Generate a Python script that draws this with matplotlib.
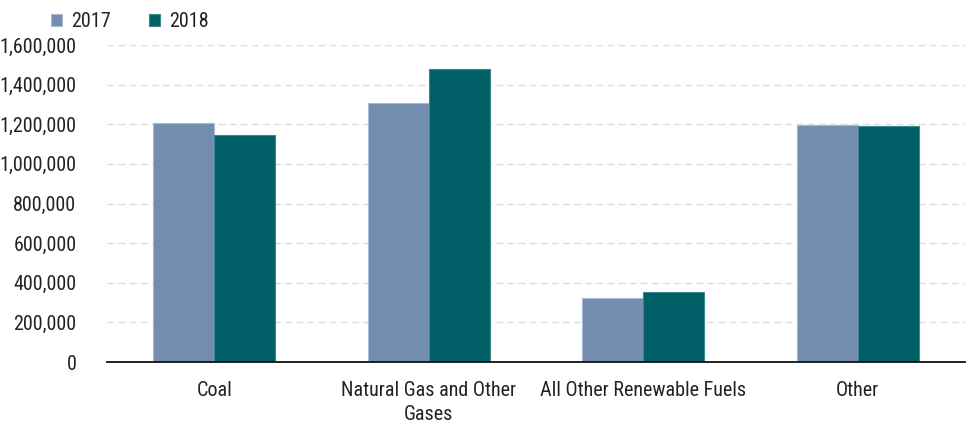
import numpy as np
import matplotlib
matplotlib.use("Agg")
import matplotlib.pyplot as plt
from matplotlib.ticker import FuncFormatter, MultipleLocator
from matplotlib.font_manager import fontManager

# data
categories = ["Coal", "Natural Gas and Other\nGases", "All Other Renewable Fuels", "Other"]
years = ["2017", "2018"]
values_2017 = [1205000, 1309000, 321000, 1196000]
values_2018 = [1144000, 1477000, 355000, 1191000]

colors = ["#728db0", "#005f66"]
edges = ["#a9bbd1", "#3a8a8e"]

names = {f.name for f in fontManager.ttflist}
family = [f for f in ["Liberation Sans Narrow", "Roboto Condensed", "Roboto", "DejaVu Sans"] if f in names]
plt.rcParams["font.family"] = family
text_color = "#222222"

fig = plt.figure(figsize=(9.66, 4.25), dpi=100)
ax = fig.add_axes([107 / 966, 1 - 362 / 425, 858 / 966, 317 / 425])

x = np.arange(len(categories))
w = 0.285
for i, (vals, yr) in enumerate(zip([values_2017, values_2018], years)):
    ax.bar(x + (i - 0.5) * w, vals, width=w, color=colors[i], edgecolor=edges[i],
           linewidth=0.8, label=yr, zorder=3)

ax.set_xlim(-0.5, len(categories) - 0.5)
ax.set_ylim(0, 1600000)
ax.yaxis.set_major_locator(MultipleLocator(200000))
ax.yaxis.set_major_formatter(FuncFormatter(lambda v, p: f"{int(v):,}"))
ax.grid(axis="y", color="#dddddd", linestyle=(0, (5, 3)), linewidth=1, zorder=0)
ax.set_xticks(x)
ax.set_xticklabels(categories, fontsize=14.5, color=text_color, linespacing=1.3)
ax.tick_params(axis="y", labelsize=14.5, colors=text_color, length=0, pad=22)
ax.tick_params(axis="x", length=0, pad=14)
for s in ["top", "right", "left"]:
    ax.spines[s].set_visible(False)
ax.spines["bottom"].set_color("#111111")
ax.spines["bottom"].set_linewidth(1.3)
ax.spines["bottom"].set_zorder(4)

leg = ax.legend(loc="lower left", bbox_to_anchor=(51 / 966, 1 - 31 / 425), bbox_transform=fig.transFigure,
                ncol=2, frameon=False, fontsize=14.5, handlelength=0.55, handleheight=0.6,
                handletextpad=0.45, columnspacing=1.9, borderaxespad=0, borderpad=0)
for t in leg.get_texts():
    t.set_color(text_color)

fig.savefig("out.png", dpi=100)
